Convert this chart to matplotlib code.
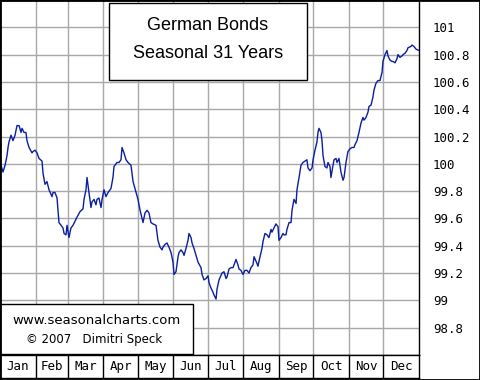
import matplotlib
matplotlib.use('Agg')
import matplotlib.pyplot as plt
from matplotlib.patches import Rectangle
import numpy as np

# seasonal curve: day of year -> index level
days = [0.9, 2.6, 4.4, 6.1, 7.0, 7.8, 9.6, 11.3, 13.1, 14.8, 16.6, 18.3, 19.2, 20.9,
        22.6, 23.5, 25.3, 27.9, 28.7, 30.5, 32.2, 34.0, 36.6, 37.5, 39.2, 40.9, 42.7,
        45.3, 46.2, 47.9, 49.7, 50.5, 51.4, 53.1, 54.9, 55.8, 57.5, 58.4, 60.1, 61.8,
        63.6, 67.1, 69.7, 72.3, 73.2, 74.9, 75.8, 77.5, 79.3, 80.1, 81.9, 83.6, 84.5,
        86.2, 88.0, 88.9, 90.6, 92.3, 94.1, 96.7, 98.4, 99.3, 101.9, 103.7, 105.4,
        106.3, 108.0, 109.8, 111.5, 114.1, 115.0, 115.9, 118.5, 120.2, 122.0, 123.7,
        124.6, 126.3, 128.1, 129.8, 131.5, 133.3, 135.9, 136.8, 137.6, 139.4, 141.1,
        142.0, 143.7, 145.5, 147.2, 149.0, 150.7, 151.6, 153.3, 155.1, 155.9, 157.7,
        159.4, 160.3, 162.0, 163.8, 164.6, 166.4, 167.3, 169.0, 170.7, 172.5, 175.1,
        176.0, 177.7, 179.5, 181.2, 182.1, 183.8, 185.5, 186.4, 188.2, 189.0, 190.8,
        193.4, 195.1, 196.9, 197.7, 199.5, 201.2, 203.0, 205.6, 207.3, 208.2, 209.9,
        211.7, 213.4, 215.2, 216.9, 218.6, 220.4, 221.3, 223.9, 224.7, 226.5, 228.2,
        229.1, 230.8, 232.6, 234.3, 236.1, 236.9, 238.7, 240.4, 242.2, 243.0, 244.8,
        246.5, 247.4, 249.1, 250.0, 251.8, 253.5, 254.4, 256.1, 257.9, 258.7, 260.5,
        262.2, 263.9, 265.7, 267.4, 268.3, 270.0, 271.8, 272.7, 274.4, 276.1, 277.0,
        277.9, 279.6, 280.5, 281.4, 283.1, 284.8, 285.7, 287.5, 288.3, 290.1, 291.0,
        292.7, 293.6, 295.3, 297.0, 298.8, 299.7, 301.4, 303.1, 304.9, 306.6, 308.4,
        309.2, 311.0, 312.7, 314.5, 316.2, 317.1, 318.8, 320.6, 321.4, 323.2, 324.9,
        325.8, 327.5, 329.3, 331.0, 332.8, 333.6, 335.4, 337.1, 338.0, 339.7, 341.5,
        342.3, 344.1, 345.8, 346.7, 348.4, 350.2, 351.1, 352.8, 354.5, 355.4, 358.0,
        358.9, 360.6, 362.4, 365.0]
values = [99.99, 99.94, 99.99, 100.06, 100.12, 100.16, 100.21, 100.17, 100.21, 100.28,
          100.28, 100.23, 100.26, 100.23, 100.23, 100.17, 100.12, 100.08, 100.09, 100.10,
          100.08, 100.04, 100.02, 99.93, 99.85, 99.87, 99.81, 99.76, 99.79, 99.79, 99.75,
          99.66, 99.57, 99.55, 99.53, 99.49, 99.48, 99.55, 99.46, 99.53, 99.55, 99.61,
          99.65, 99.67, 99.74, 99.81, 99.90, 99.79, 99.68, 99.72, 99.74, 99.70, 99.74,
          99.75, 99.68, 99.74, 99.81, 99.76, 99.79, 99.82, 99.90, 99.98, 100.01, 100.01,
          100.03, 100.12, 100.08, 100.03, 100.01, 99.99, 99.93, 99.87, 99.79, 99.74,
          99.66, 99.60, 99.57, 99.64, 99.66, 99.64, 99.57, 99.56, 99.55, 99.49, 99.44,
          99.39, 99.37, 99.39, 99.41, 99.42, 99.39, 99.35, 99.28, 99.19, 99.21, 99.32,
          99.35, 99.37, 99.35, 99.33, 99.38, 99.44, 99.49, 99.46, 99.42, 99.38, 99.33,
          99.28, 99.24, 99.19, 99.15, 99.16, 99.18, 99.13, 99.09, 99.06, 99.04, 99.01,
          99.08, 99.15, 99.20, 99.21, 99.16, 99.17, 99.23, 99.24, 99.24, 99.30, 99.26,
          99.23, 99.22, 99.19, 99.22, 99.22, 99.20, 99.24, 99.26, 99.32, 99.27, 99.25,
          99.32, 99.38, 99.43, 99.49, 99.48, 99.46, 99.52, 99.50, 99.53, 99.56, 99.54,
          99.44, 99.46, 99.49, 99.48, 99.48, 99.52, 99.57, 99.57, 99.66, 99.74, 99.71,
          99.81, 99.90, 99.99, 100.01, 100.02, 100.03, 99.97, 99.95, 99.97, 100.03,
          100.10, 100.16, 100.23, 100.26, 100.23, 100.17, 100.06, 99.98, 99.97, 100.01,
          99.98, 99.90, 99.99, 100.03, 100.04, 100.01, 100.04, 99.94, 99.88, 99.90,
          100.01, 100.09, 100.11, 100.12, 100.12, 100.14, 100.17, 100.23, 100.30, 100.34,
          100.32, 100.34, 100.38, 100.42, 100.43, 100.49, 100.54, 100.59, 100.61, 100.61,
          100.67, 100.75, 100.80, 100.83, 100.79, 100.76, 100.75, 100.75, 100.74, 100.77,
          100.80, 100.78, 100.79, 100.80, 100.81, 100.83, 100.85, 100.86, 100.87, 100.86,
          100.84, 100.83]

month_names = ['Jan', 'Feb', 'Mar', 'Apr', 'May', 'Jun',
               'Jul', 'Aug', 'Sep', 'Oct', 'Nov', 'Dec']
month_days = [31, 28, 31, 30, 31, 30, 31, 31, 30, 31, 30, 31]
y_ticks = [98.8, 99.0, 99.2, 99.4, 99.6, 99.8, 100.0, 100.2, 100.4, 100.6, 100.8, 101.0]

W, H = 480, 380
fig = plt.figure(figsize=(W / 100, H / 100), dpi=100)
fig.patch.set_facecolor('white')

bounds = np.cumsum([0] + month_days)

# main plot area
ax = fig.add_axes([0, 25 / H, 419 / W, 355 / H])
ax.set_xlim(0, 365)
ax.set_ylim(98.6, 101.2)
ax.set_xticks(bounds[1:-1])
ax.set_yticks(y_ticks)
ax.set_yticklabels(['{:g}'.format(v) for v in y_ticks], family='DejaVu Sans Mono', fontsize=9)
ax.grid(True, color='#a8a8a8', linewidth=1.0)
ax.set_axisbelow(True)
ax.tick_params(axis='x', length=0, labelbottom=False)
ax.yaxis.tick_right()
ax.tick_params(axis='y', length=0, pad=10)
for s in ax.spines.values():
    s.set_color('black')
    s.set_linewidth(1.0)

ax.plot(days, values, color='#0a1ea0', linewidth=1.0, zorder=3)

# month band
mx = fig.add_axes([0, 2 / H, 419 / W, 23 / H])
mx.set_xlim(0, 365)
mx.set_ylim(0, 1)
mx.set_xticks([])
mx.set_yticks([])
for b in bounds[1:-1]:
    mx.axvline(b, color='black', linewidth=1.0)
for i, name in enumerate(month_names):
    mx.text((bounds[i] + bounds[i + 1]) / 2, 0.48, name, ha='center', va='center',
            family='DejaVu Sans Mono', fontsize=9)
for s in mx.spines.values():
    s.set_color('black')
    s.set_linewidth(1.0)

# title box
ax.add_patch(Rectangle((109 / W, 1 - 80 / H), 198 / W, 77 / H, transform=fig.transFigure,
                       facecolor='white', edgecolor='black', linewidth=1.0,
                       clip_on=False, zorder=5))
ax.text(208 / W, 1 - 26 / H, 'German Bonds', transform=fig.transFigure, ha='center',
        va='center', fontsize=13, family='Liberation Sans', zorder=6)
ax.text(208 / W, 1 - 53 / H, 'Seasonal 31 Years', transform=fig.transFigure, ha='center',
        va='center', fontsize=13, family='Liberation Sans', zorder=6)

# watermark box
ax.add_patch(Rectangle((0, 1 - 354 / H), 193 / W, 50 / H, transform=fig.transFigure,
                       facecolor='white', edgecolor='black', linewidth=1.0,
                       clip_on=False, zorder=5))
ax.text(97 / W, 1 - 320 / H, 'www.seasonalcharts.com', transform=fig.transFigure,
        ha='center', va='center', fontsize=9.5, family='DejaVu Sans', zorder=6)
ax.text(94 / W, 1 - 339 / H, '\u00a9 2007   Dimitri Speck', transform=fig.transFigure,
        ha='center', va='center', fontsize=8.5, family='DejaVu Sans', zorder=6)

# outer frame
fig.add_artist(Rectangle((0, 0), 1, 1, transform=fig.transFigure, fill=False,
                         edgecolor='black', linewidth=2.0))

fig.savefig('out.png', dpi=100)
